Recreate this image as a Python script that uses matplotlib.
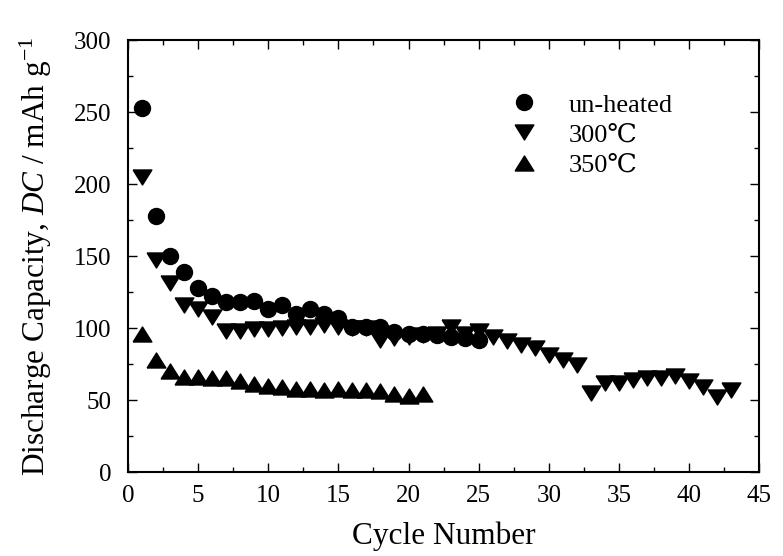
import matplotlib
matplotlib.use("Agg")
import matplotlib.pyplot as plt
from matplotlib.ticker import MultipleLocator

plt.rcParams['font.family'] = ['Liberation Serif', 'DejaVu Serif']
plt.rcParams['mathtext.fontset'] = 'custom'
plt.rcParams['mathtext.rm'] = 'Liberation Serif'
plt.rcParams['mathtext.it'] = 'Liberation Serif:italic'

# data
cycles_unheated = list(range(1, 26))
cap_unheated = [253, 178, 150, 139, 128, 122, 118, 118, 119, 113,
                116, 110, 113, 110, 107, 101, 101, 101, 97, 96,
                96, 95, 94, 93, 92]

cycles_300 = list(range(1, 44))
cap_300 = [205, 147, 131, 116, 113, 108, 98, 98, 99, 99,
           100, 101, 101, 102, 101, 100, 100, 92, 93, 94,
           95, 96, 101, 96, 98, 94, 91, 88, 86, 81,
           78, 74, 55, 62, 62, 64, 65, 65, 67, 63,
           59, 52, 57]

cycles_350 = list(range(1, 22))
cap_350 = [96, 78, 70, 66, 66, 65, 65, 63, 61, 60,
           59, 58, 58, 57, 58, 57, 57, 56, 54, 53,
           54]

labels = ["un-heated", "300\u2103", "350\u2103"]

# wide, flat triangles like the original
tri_down = [(-1, 0.8), (1, 0.8), (0, -0.8), (-1, 0.8)]
tri_up = [(-1, -0.8), (1, -0.8), (0, 0.8), (-1, -0.8)]

fig = plt.figure(figsize=(7.83, 5.56), dpi=100)
ax = fig.add_axes([0.1635, 0.151, 0.806, 0.777])

ax.plot(cycles_unheated, cap_unheated, linestyle='none', marker='o',
        markersize=11.5, color='black', label=labels[0])
ax.plot(cycles_300, cap_300, linestyle='none', marker=tri_down,
        markersize=13.5, color='black', label=labels[1])
ax.plot(cycles_350, cap_350, linestyle='none', marker=tri_up,
        markersize=13.5, color='black', label=labels[2])

ax.set_xlim(0, 45)
ax.set_ylim(0, 300)
ax.xaxis.set_major_locator(MultipleLocator(5))
ax.xaxis.set_minor_locator(MultipleLocator(2.5))
ax.yaxis.set_major_locator(MultipleLocator(50))
ax.yaxis.set_minor_locator(MultipleLocator(25))

ax.tick_params(which='both', direction='in', top=True, right=True,
               width=1.0, labelsize=18)
ax.tick_params(which='major', length=6.5)
ax.tick_params(which='minor', length=3.5)
ax.tick_params(axis='x', pad=9)
ax.tick_params(axis='y', pad=12)
for s in ax.spines.values():
    s.set_linewidth(1.5)

ax.set_xlabel("Cycle Number", fontsize=22.5, labelpad=11)
ax.set_ylabel(r"Discharge Capacity, $\mathit{DC}$ / mAh g$^{-1}$", fontsize=22.5)
ax.yaxis.set_label_coords(-0.117, 0.5)

ax.legend(loc='upper left', bbox_to_anchor=(0.607, 0.877), frameon=False,
          fontsize=19, handlelength=1.0, handletextpad=1.2, labelspacing=0.25,
          borderpad=0, borderaxespad=0, numpoints=1)

fig.savefig("out.png", dpi=100)
